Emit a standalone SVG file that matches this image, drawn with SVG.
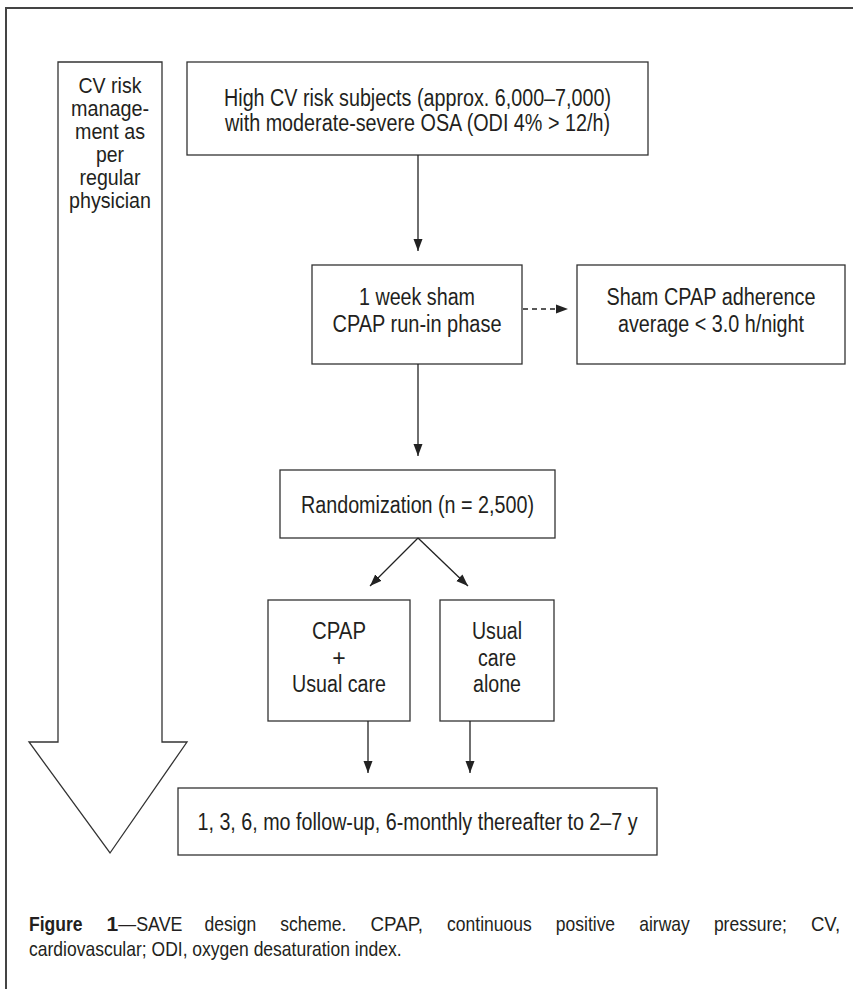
<svg xmlns="http://www.w3.org/2000/svg" width="853" height="989" viewBox="0 0 853 989">
<defs>
<style>
.box{fill:#fff;stroke:#333;stroke-width:1.3}
.t{font-family:"Liberation Sans",Arial,sans-serif;font-size:23px;fill:#231f20;text-anchor:middle}
.a{font-family:"Liberation Sans",Arial,sans-serif;font-size:22px;fill:#231f20;text-anchor:middle}
.c{font-family:"Liberation Sans",Arial,sans-serif;font-size:21px;fill:#231f20}
.ln{stroke:#222;stroke-width:1.3;fill:none}
</style>
<marker id="ah" markerUnits="userSpaceOnUse" markerWidth="12" markerHeight="16" refX="16" refY="6" viewBox="0 0 16 12" orient="auto">
<path d="M0,0 L16,6 L0,12 z" fill="#222"/>
</marker>
</defs>
<rect width="853" height="989" fill="#fff"/>
<path d="M6,989 V8 H853" fill="none" stroke="#444" stroke-width="2"/>

<g id="cv-risk-arrow">
<polygon class="box" points="58,62 162,62 162,742 187,742 110,853 29,742 58,742"/>
<text class="a" x="110" y="93" textLength="63" lengthAdjust="spacingAndGlyphs">CV risk</text>
<text class="a" x="110" y="116" textLength="78" lengthAdjust="spacingAndGlyphs">manage-</text>
<text class="a" x="110" y="139" textLength="70" lengthAdjust="spacingAndGlyphs">ment as</text>
<text class="a" x="110" y="162" textLength="28" lengthAdjust="spacingAndGlyphs">per</text>
<text class="a" x="110" y="185" textLength="61" lengthAdjust="spacingAndGlyphs">regular</text>
<text class="a" x="110" y="208" textLength="82" lengthAdjust="spacingAndGlyphs">physician</text>
</g>

<g id="n-subjects">
<rect class="box" x="187" y="62" width="461" height="93"/>
<text class="t" x="417.5" y="105.5" textLength="387" lengthAdjust="spacingAndGlyphs">High CV risk subjects (approx. 6,000–7,000)</text>
<text class="t" x="417.5" y="130.5" textLength="385" lengthAdjust="spacingAndGlyphs">with moderate-severe OSA (ODI 4% &gt; 12/h)</text>
</g>

<g id="n-runin">
<rect class="box" x="312" y="265" width="210" height="99"/>
<text class="t" x="417" y="305" textLength="116" lengthAdjust="spacingAndGlyphs">1 week sham</text>
<text class="t" x="417" y="332" textLength="169" lengthAdjust="spacingAndGlyphs">CPAP run-in phase</text>
</g>

<g id="n-adherence">
<rect class="box" x="577" y="265" width="268" height="99"/>
<text class="t" x="711" y="305" textLength="209" lengthAdjust="spacingAndGlyphs">Sham CPAP adherence</text>
<text class="t" x="711" y="332" textLength="186" lengthAdjust="spacingAndGlyphs">average &lt; 3.0 h/night</text>
</g>

<g id="n-random">
<rect class="box" x="280" y="470" width="275" height="68"/>
<text class="t" x="417.5" y="512.5" textLength="233" lengthAdjust="spacingAndGlyphs">Randomization (n = 2,500)</text>
</g>

<g id="n-cpap">
<rect class="box" x="268" y="600" width="142" height="121"/>
<text class="t" x="339" y="638.5" textLength="54" lengthAdjust="spacingAndGlyphs">CPAP</text>
<text class="t" x="339" y="665.5">+</text>
<text class="t" x="339" y="691.5" textLength="94" lengthAdjust="spacingAndGlyphs">Usual care</text>
</g>

<g id="n-usual">
<rect class="box" x="440" y="600" width="114" height="121"/>
<text class="t" x="497" y="638.5" textLength="50" lengthAdjust="spacingAndGlyphs">Usual</text>
<text class="t" x="497" y="665.5" textLength="38" lengthAdjust="spacingAndGlyphs">care</text>
<text class="t" x="497" y="691.5" textLength="48" lengthAdjust="spacingAndGlyphs">alone</text>
</g>

<g id="n-followup">
<rect class="box" x="178" y="788" width="479" height="67"/>
<text class="t" x="417.5" y="829.5" textLength="440" lengthAdjust="spacingAndGlyphs">1, 3, 6, mo follow-up, 6-monthly thereafter to 2–7 y</text>
</g>

<g id="connectors">
<line class="ln" x1="418" y1="155" x2="418" y2="251" marker-end="url(#ah)"/>
<line class="ln" x1="523" y1="309" x2="568" y2="309" stroke-dasharray="5,4" marker-end="url(#ah)"/>
<line class="ln" x1="418" y1="364" x2="418" y2="456" marker-end="url(#ah)"/>
<line class="ln" x1="418" y1="538" x2="370" y2="586" marker-end="url(#ah)"/>
<line class="ln" x1="418" y1="538" x2="468" y2="586" marker-end="url(#ah)"/>
<line class="ln" x1="368" y1="721" x2="368" y2="773" marker-end="url(#ah)"/>
<line class="ln" x1="470" y1="721" x2="470" y2="773" marker-end="url(#ah)"/>
</g>

<g id="caption">
<text class="c" y="931"><tspan x="29" font-weight="bold" textLength="53.5" lengthAdjust="spacingAndGlyphs">Figure</tspan><tspan x="106.6" font-weight="bold">1</tspan><tspan textLength="64.2" lengthAdjust="spacingAndGlyphs">—SAVE</tspan><tspan x="204.6" textLength="51.6" lengthAdjust="spacingAndGlyphs">design</tspan><tspan x="280.3" textLength="66.1" lengthAdjust="spacingAndGlyphs">scheme.</tspan><tspan x="370.5" textLength="52.5" lengthAdjust="spacingAndGlyphs">CPAP,</tspan><tspan x="447.1" textLength="84.6" lengthAdjust="spacingAndGlyphs">continuous</tspan><tspan x="555.8" textLength="59.3" lengthAdjust="spacingAndGlyphs">positive</tspan><tspan x="639.2" textLength="50.6" lengthAdjust="spacingAndGlyphs">airway</tspan><tspan x="713.9" textLength="72.9" lengthAdjust="spacingAndGlyphs">pressure;</tspan><tspan x="810.9" textLength="29.2" lengthAdjust="spacingAndGlyphs">CV,</tspan></text>
<text class="c" x="29" y="956" textLength="372.5" lengthAdjust="spacingAndGlyphs">cardiovascular; ODI, oxygen desaturation index.</text>
</g>
</svg>
